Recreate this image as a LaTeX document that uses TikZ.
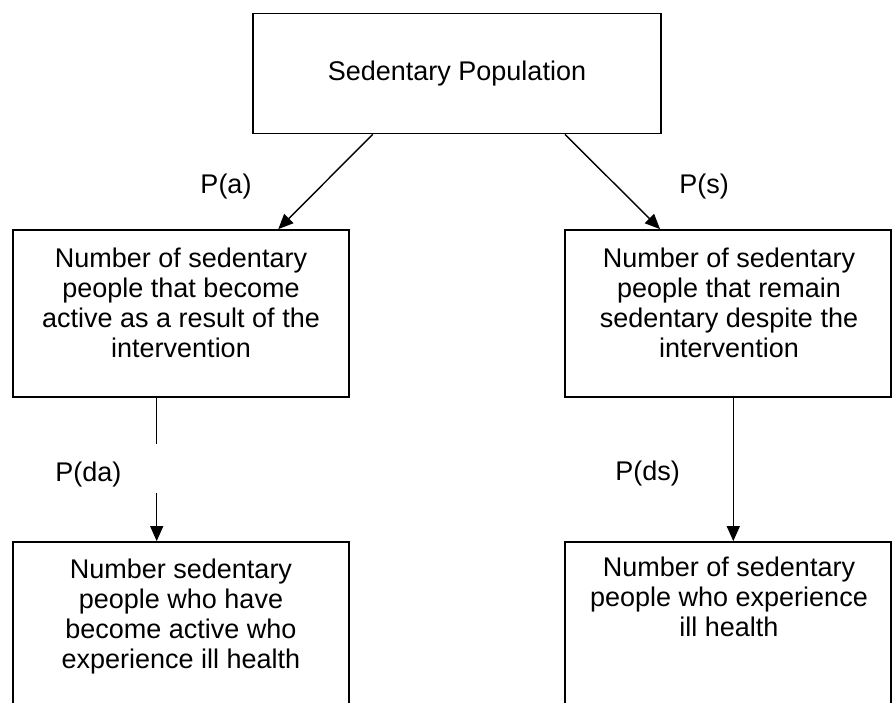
\documentclass[tikz,border=0pt]{standalone}
\usepackage{fontspec}
\setmainfont{Liberation Sans}
\usetikzlibrary{arrows.meta}
\begin{document}
\begin{tikzpicture}[x=1pt,y=-1pt,
  box/.style={draw=black, line width=1.8pt, fill=none, inner sep=0pt},
  txt/.style={align=center, inner sep=0pt, font=\fontsize{27}{30}\selectfont},
  lbl/.style={inner sep=0pt, font=\fontsize{27}{30}\selectfont},
  arr/.style={line width=1.4pt, -{Triangle[length=15pt,width=13pt]}}]
\useasboundingbox (0,0) rectangle (892,703);
% boxes
\node[box, minimum width=408pt, minimum height=120pt] (top) at (457,73.5) {};
\node[box, minimum width=336pt, minimum height=167pt] (lm) at (181,313.5) {};
\node[box, minimum width=326pt, minimum height=167pt] (rm) at (728,313.5) {};
\node[box, minimum width=336pt, minimum height=178pt] (lb) at (181,631) {};
\node[box, minimum width=326pt, minimum height=178pt] (rb) at (728,631) {};
% texts
\node[lbl, anchor=base] (topt) at (457,80.7) {Sedentary Population};
\node[txt, anchor=north] (lmt) at (181,247.6) {Number of sedentary\\people that become\\active as a result of the\\intervention};
\node[txt, anchor=north] (rmt) at (729,247.6) {Number of sedentary\\people that remain\\sedentary despite the\\intervention};
\node[txt, anchor=north] (lbt) at (181,558.3) {Number sedentary\\people who have\\become active who\\experience ill health};
\node[txt, anchor=north] (rbt) at (729,557) {Number of sedentary\\people who experience\\ill health};
% labels
\node[lbl, anchor=base] (pa) at (226,193.3) {P(a)};
\node[lbl, anchor=base] (ps) at (704,193.3) {P(s)};
\node[lbl, anchor=base] (pda) at (88.3,481.7) {P(da)};
\node[lbl, anchor=base] (pds) at (647.5,480.5) {P(ds)};
% connectors
\draw[arr] ([xshift=-84.3pt]top.south) -- ([xshift=97.3pt]lm.north);
\draw[arr] ([xshift=108pt]top.south) -- ([xshift=-68pt]rm.north);
\coordinate (gapA) at (156.7,444);
\coordinate (gapB) at (156.7,493);
\draw[line width=1.4pt] ([xshift=-24.3pt]lm.south) -- (gapA);
\draw[arr] (gapB) -- ([xshift=-24.3pt]lb.north);
\draw[arr] ([xshift=5.3pt]rm.south) -- ([xshift=5.3pt]rb.north);
\end{tikzpicture}
\end{document}
